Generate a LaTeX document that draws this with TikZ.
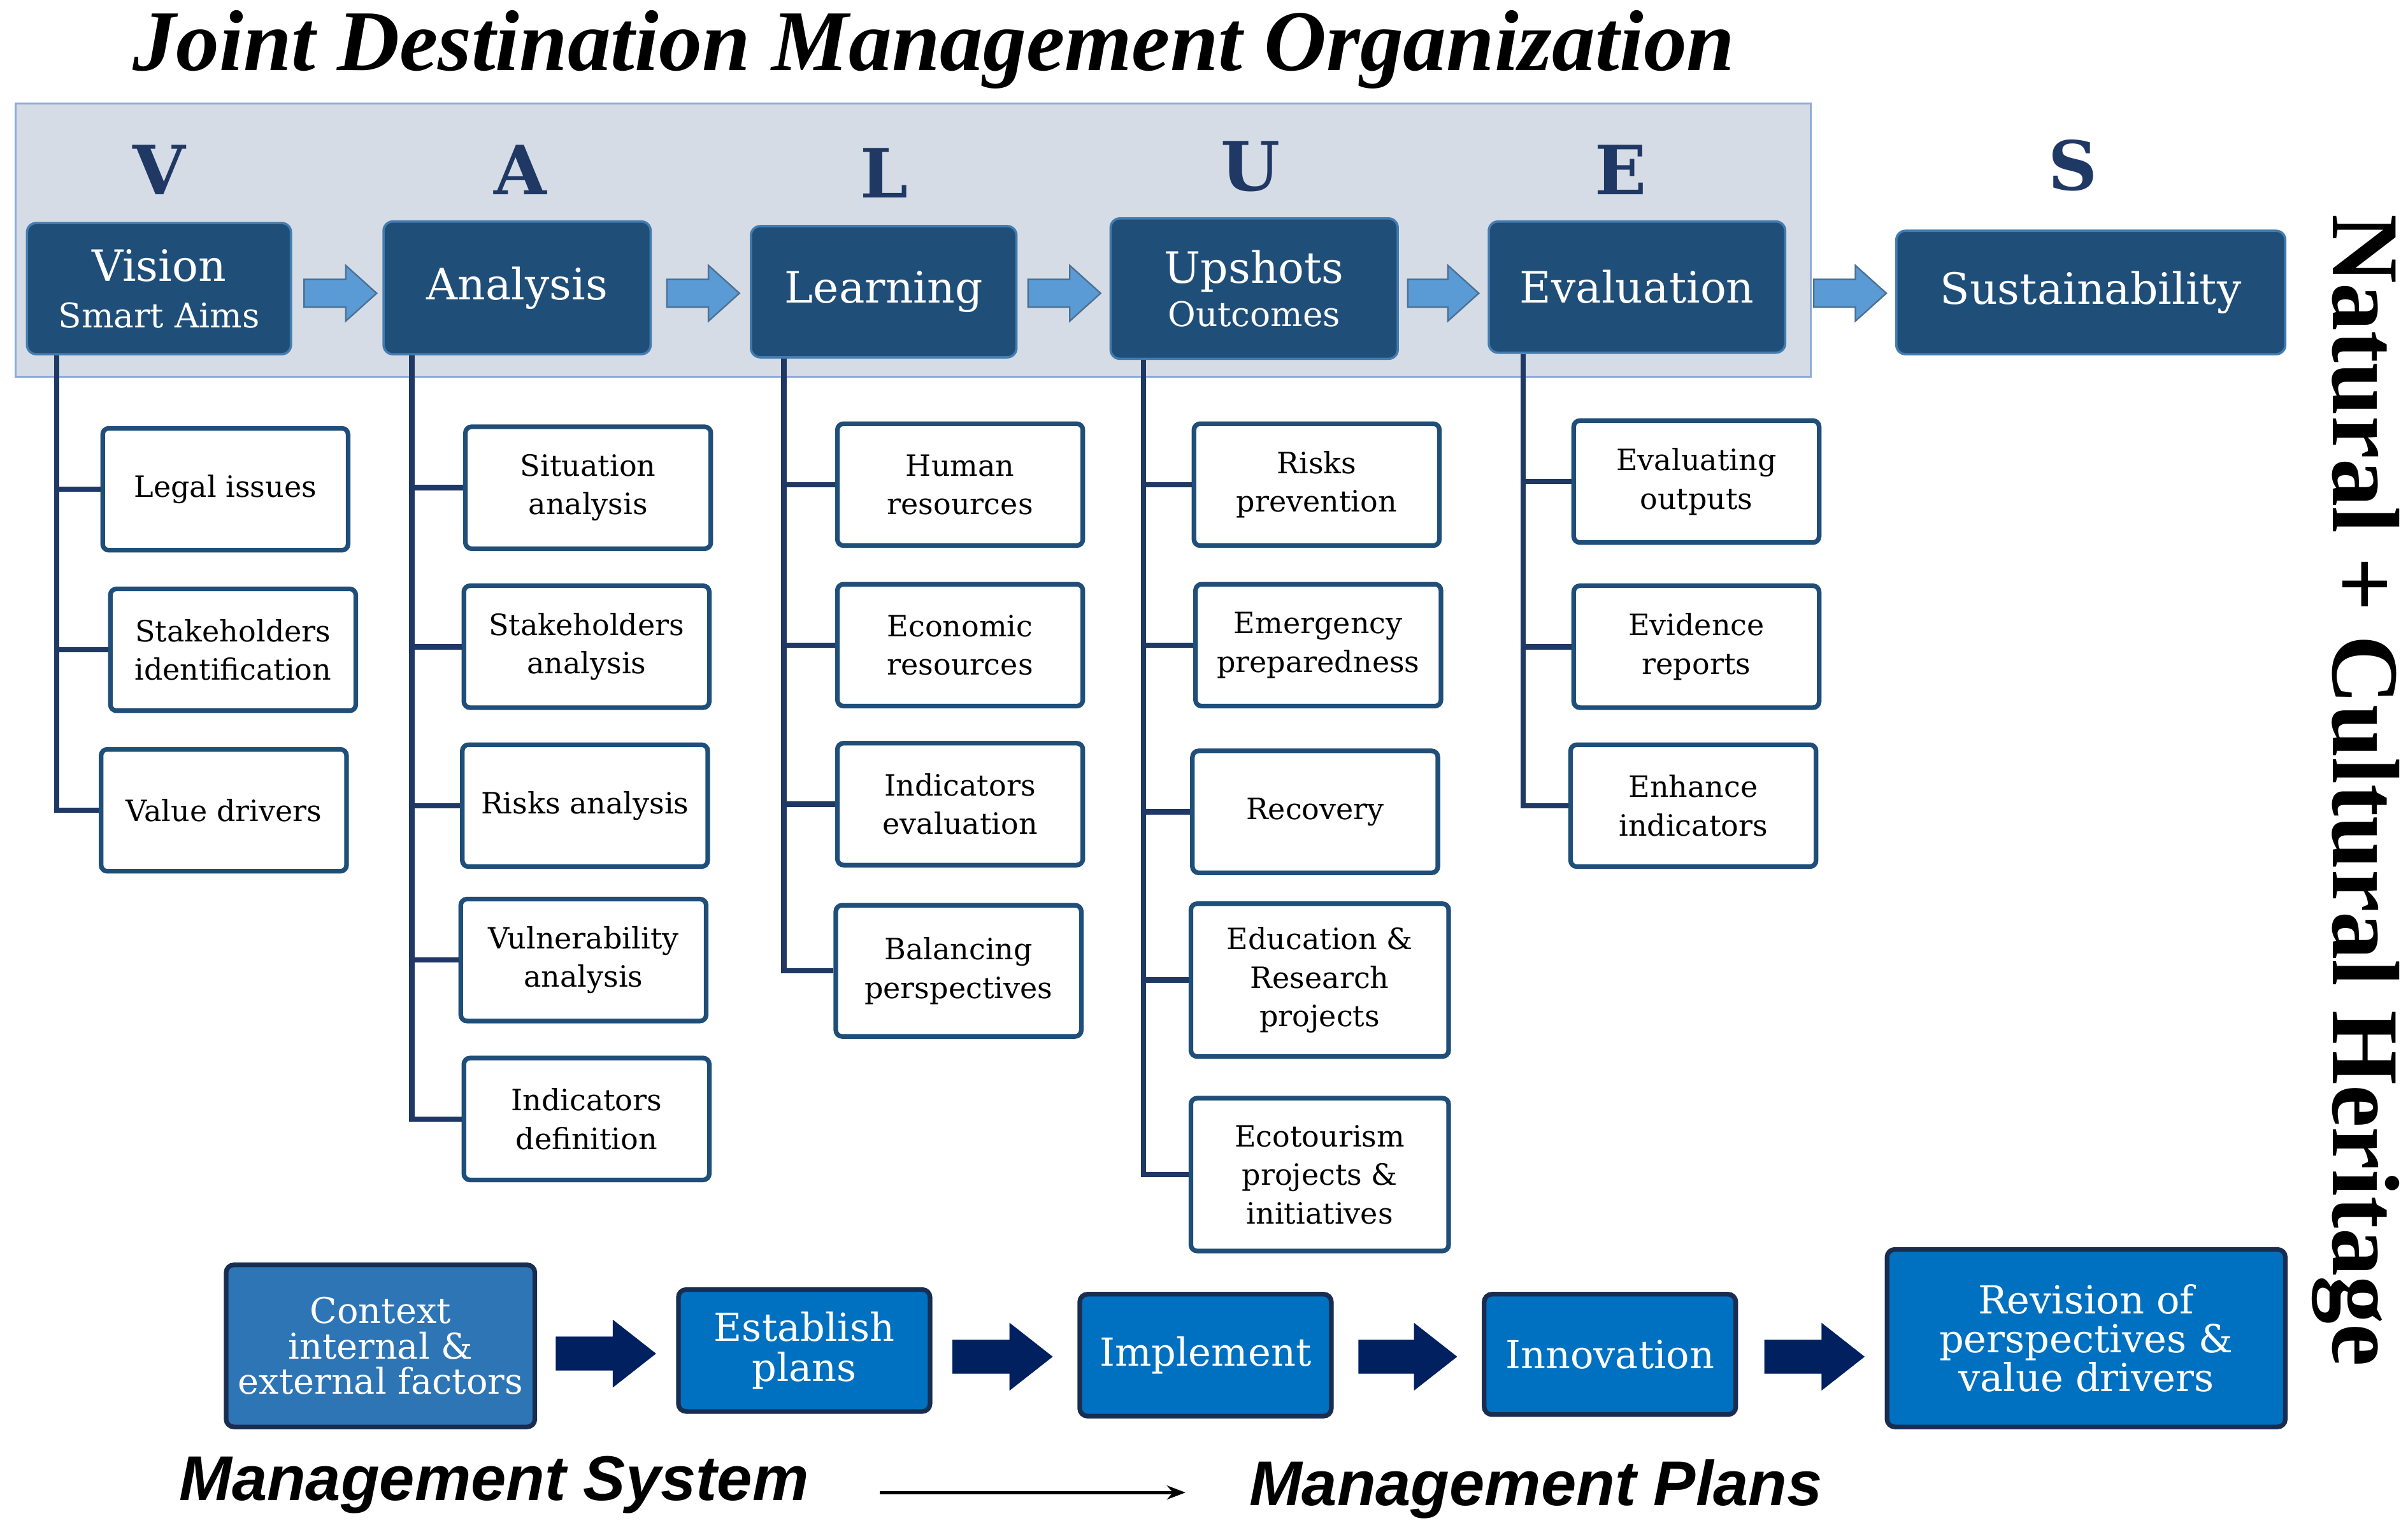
\documentclass[tikz,border=0pt]{standalone}
\usepackage{fontspec}
\setmainfont{DejaVu Serif}
\newfontfamily\titlefont{Liberation Serif}
\newfontfamily\sansf{Liberation Sans}
\usetikzlibrary{arrows.meta}
\definecolor{navy}{HTML}{1F3864}
\definecolor{topbox}{HTML}{1F4E79}
\definecolor{subline}{HTML}{1F3864}
\definecolor{lightbg}{HTML}{D6DCE5}
\definecolor{bgedge}{HTML}{8EA9DB}
\definecolor{arrowlight}{HTML}{5B9BD5}
\definecolor{botbox}{HTML}{0070C0}
\definecolor{ctxbox}{HTML}{2E75B6}
\definecolor{botarrow}{HTML}{002060}
\tikzset{
 topstyle/.style={draw=arrowlight!60!topbox,line width=1.5pt,fill=topbox,rounded corners=6pt,text=white,align=center,font=\fontsize{28}{32}\selectfont},
 substyle/.style={draw=topbox,line width=3pt,fill=white,rounded corners=4pt,align=center,font=\fontsize{19}{25}\selectfont},
 botstyle/.style={draw=navy!80!black,line width=3pt,fill=botbox,rounded corners=5pt,text=white,align=center,font=\fontsize{25}{30}\selectfont},
 trunk/.style={draw=subline,line width=3.5pt},
 letterstyle/.style={text=navy,font=\fontsize{44}{44}\selectfont\bfseries},
 larrow/.style={draw=topbox!80,fill=arrowlight,line width=1pt},
 darrow/.style={fill=botarrow},
}
\newcommand{\bx}[7]{\node[#1,minimum width=#4pt-#2pt-3pt,minimum height=#5pt-#3pt-3pt,inner sep=0pt] (#6) at ({(#2+#4)/2},{(#3+#5)/2}) {#7};}
% block arrow: style, x1, x2, y, shaft half, head half, head length
\newcommand{\blk}[7]{\path[#1] (#2,#4-#5) -- (#3-#7,#4-#5) -- (#3-#7,#4-#6) -- (#3,#4) -- (#3-#7,#4+#6) -- (#3-#7,#4+#5) -- (#2,#4+#5) -- cycle;}
\begin{document}
\begin{tikzpicture}[x=1pt,y=-1pt]
\useasboundingbox[fill=white] (0,0) rectangle (1560,991);
\node[font=\titlefont\fontsize{56}{56}\selectfont\bfseries\itshape] (title) at (605,32) {Joint Destination Management Organization};
\node[draw=bgedge,line width=1.2pt,fill=lightbg,minimum width=1163pt,minimum height=177pt,inner sep=0pt] (bg) at (591.5,155.5) {};
\node[letterstyle] (lV) at (103,110) {V};
\node[letterstyle] (lA) at (337,110) {A};
\node[letterstyle] (lL) at (573,112) {L};
\node[letterstyle] (lU) at (810,108) {U};
\node[letterstyle] (lE) at (1050,110) {E};
\node[letterstyle] (lS) at (1343,107) {S};
% top boxes
\bx{topstyle}{16}{143}{190}{231}{vision}{Vision\\[-2pt]{\fontsize{22}{26}\selectfont Smart Aims}}
\bx{topstyle}{247}{142}{423}{231}{analysis}{Analysis}
\bx{topstyle}{485}{145}{660}{233}{learning}{Learning}
\bx{topstyle}{718}{140}{907}{234}{upshots}{Upshots\\[-4pt]{\fontsize{22}{26}\selectfont Outcomes}}
\bx{topstyle}{963}{142}{1158}{230}{evaluation}{Evaluation}
\bx{topstyle}{1227}{148}{1482}{231}{sustain}{Sustainability}
\blk{larrow}{197}{244}{190}{9}{18}{20}
\blk{larrow}{432}{479}{190}{9}{18}{20}
\blk{larrow}{666}{713}{190}{9}{18}{20}
\blk{larrow}{912}{958}{190}{9}{18}{20}
\blk{larrow}{1175}{1222}{190}{9}{18}{20}
% sub boxes
\bx{substyle}{65}{276}{227}{358}{legal}{Legal issues}
\bx{substyle}{70}{380}{232}{462}{stakeid}{Stakeholders\\identification}
\bx{substyle}{64}{484}{226}{566}{valued}{Value drivers}
\bx{substyle}{300}{275}{462}{357}{situ}{Situation\\analysis}
\bx{substyle}{299}{378}{461}{460}{stakean}{Stakeholders\\analysis}
\bx{substyle}{298}{481}{460}{563}{risksan}{Risks analysis}
\bx{substyle}{297}{581}{459}{663}{vuln}{Vulnerability\\analysis}
\bx{substyle}{299}{684}{461}{766}{inddef}{Indicators\\definition}
\bx{substyle}{541}{273}{703}{355}{human}{Human\\resources}
\bx{substyle}{541}{377}{703}{459}{econ}{Economic\\resources}
\bx{substyle}{541}{480}{703}{562}{indeval}{Indicators\\evaluation}
\bx{substyle}{540}{585}{702}{673}{balance}{Balancing\\perspectives}
\bx{substyle}{772}{273}{934}{355}{risksprev}{Risks\\prevention}
\bx{substyle}{773}{377}{935}{459}{emerg}{Emergency\\preparedness}
\bx{substyle}{771}{485}{933}{567}{recov}{Recovery}
\bx{substyle}{770}{584}{940}{686}{educ}{Education \&\\Research\\projects}
\bx{substyle}{770}{710}{940}{812}{ecot}{Ecotourism\\projects \&\\initiatives}
\bx{substyle}{1018}{271}{1180}{353}{evalout}{Evaluating\\outputs}
\bx{substyle}{1018}{378}{1180}{460}{evid}{Evidence\\reports}
\bx{substyle}{1016}{481}{1178}{563}{enhance}{Enhance\\indicators}
\foreach \top/\dx/\subs in {vision/20/{legal,stakeid,valued},analysis/19/{situ,stakean,risksan,vuln,inddef},learning/22/{human,econ,indeval,balance},upshots/22/{risksprev,emerg,recov,educ,ecot},evaluation/23/{evalout,evid,enhance}}{
 \foreach \s in \subs {\draw[trunk] ([xshift=\dx pt]\top.south west) |- (\s.west);}
}
% right text
\node[rotate=-90,font=\titlefont\fontsize{62}{62}\selectfont\bfseries,inner sep=0pt] (heritage) at (1526,512) {Natural + Cultural Heritage};
% bottom
\bx{botstyle,fill=ctxbox,font=\fontsize{23}{28}\selectfont}{145}{818}{348}{926}{context}{Context\\[-5pt]internal \&\\[-5pt]external factors}
\bx{botstyle}{438}{834}{604}{916}{establish}{Establish\\[-4pt]plans}
\bx{botstyle}{698}{837}{864}{919}{implement}{Implement}
\bx{botstyle}{960}{837}{1126}{918}{innov}{Innovation}
\bx{botstyle}{1221}{808}{1482}{926}{revision}{Revision of\\[-5pt]perspectives \&\\[-5pt]value drivers}
\blk{darrow}{360}{425}{877}{11}{22}{28}
\blk{darrow}{617}{682}{879}{11}{22}{28}
\blk{darrow}{880}{944}{879}{11}{22}{28}
\blk{darrow}{1143}{1208}{879}{11}{22}{28}
\node[font=\sansf\fontsize{41}{41}\selectfont\bfseries\itshape] (msys) at (320,962) {Management System};
\node[font=\sansf\fontsize{41}{41}\selectfont\bfseries\itshape] (mplans) at (995,965) {Management Plans};
\coordinate (ms1) at (570,967);
\coordinate (ms2) at (768,967);
\draw[line width=2pt,-{Stealth[length=12pt]}] (ms1) -- (ms2);
\end{tikzpicture}
\end{document}
